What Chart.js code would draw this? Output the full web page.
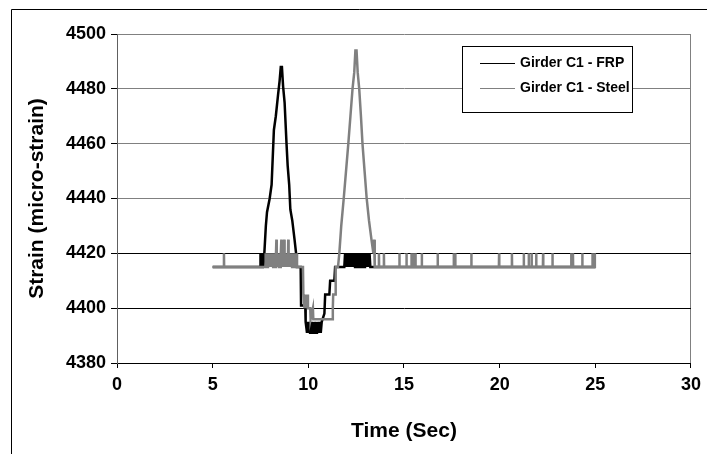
<!DOCTYPE html>
<html>
<head>
<meta charset="utf-8">
<script src="https://cdn.jsdelivr.net/npm/chart.js@4/dist/chart.umd.min.js"></script>
<style>
  html, body { margin: 0; padding: 0; background: #fff; }
  #wrap { position: relative; width: 707px; height: 454px; }
  canvas { display: block; }
</style>
</head>
<body>
<div id="wrap"><canvas id="c" width="707" height="454"></canvas></div>
<script>
// ---- Data ----
const seriesNames = ["Girder C1 - FRP", "Girder C1 - Steel"];
const xTicks = [0, 5, 10, 15, 20, 25, 30];
const yTicks = [4380, 4400, 4420, 4440, 4460, 4480, 4500];

// Girder C1 - FRP (time in s, strain in micro-strain)
const frpTime = [
  5.00, 7.48, 7.50, 7.53, 7.56, 7.59, 7.62, 7.65, 7.70, 7.78, 7.84, 7.98, 8.08, 8.20, 8.30, 8.42, 8.50, 8.56, 8.62,
  8.68, 8.76, 8.86, 8.92, 9.00, 9.06, 9.16, 9.28, 9.36, 9.40, 9.60, 9.62, 9.84, 9.86, 9.93,
  9.97, 10.01, 10.05, 10.09, 10.13, 10.17, 10.21, 10.25, 10.29, 10.33, 10.37, 10.41, 10.45, 10.49, 10.53, 10.57, 10.61, 10.65,
  10.70, 10.84, 10.88, 11.10, 11.14, 11.36, 11.40, 11.88,
  11.92, 11.96, 12.00, 12.04, 12.08, 12.12, 12.16, 12.20, 12.24, 12.28, 12.32, 12.36, 12.40, 12.44, 12.48, 12.52, 12.56,
  12.60, 12.64, 12.68, 12.72, 12.76, 12.80, 12.84, 12.88, 12.92, 12.96, 13.00, 13.04, 13.08, 13.12, 13.16, 13.20,
  13.24, 25.00
];
const frpStrain = [
  4415, 4415, 4420, 4415, 4420, 4415, 4420, 4415, 4420, 4430, 4435, 4440, 4445, 4465, 4470, 4478, 4483, 4488, 4488,
  4481, 4475, 4460, 4452, 4445, 4436, 4432, 4425, 4420, 4415, 4415, 4401, 4401, 4395, 4391,
  4395, 4391, 4395, 4391, 4395, 4391, 4395, 4391, 4395, 4391, 4395, 4391, 4395, 4391, 4395, 4391, 4395, 4391,
  4395, 4398, 4405, 4405, 4410, 4410, 4415, 4415,
  4420, 4415, 4420, 4415, 4420, 4415, 4420, 4415, 4420, 4415, 4420, 4415, 4420, 4415, 4420, 4415, 4420,
  4415, 4420, 4415, 4420, 4415, 4420, 4415, 4420, 4415, 4420, 4415, 4420, 4415, 4420, 4415, 4420,
  4415, 4415
];

// Girder C1 - Steel
const steelTime = [
  5.00, 5.58, 5.59, 5.60, 7.74,
  7.77, 7.80, 7.83, 7.86, 7.89, 7.92, 7.95, 7.98, 8.01, 8.04, 8.07, 8.10, 8.13, 8.16, 8.19, 8.22, 8.25, 8.28, 8.31,
  8.33, 8.35, 8.38, 8.41, 8.44, 8.47, 8.50, 8.53, 8.56, 8.59, 8.61, 8.64, 8.67, 8.70, 8.72, 8.74, 8.76, 8.79, 8.82,
  8.85, 8.88, 8.91, 8.93, 8.95, 8.97, 9.00, 9.03, 9.06, 9.09, 9.12, 9.15, 9.18, 9.21, 9.24, 9.27, 9.30, 9.33, 9.36,
  9.40, 9.72, 9.74, 9.80, 9.83, 9.86, 9.89, 9.92, 9.96, 9.98, 10.10, 10.12, 10.24, 10.26, 10.30, 11.24, 11.28,
  11.30, 11.40, 11.43, 11.55, 11.62, 11.72, 11.85, 11.97, 12.09, 12.20, 12.31, 12.40, 12.46, 12.52, 12.58, 12.66,
  12.75, 12.83, 12.94, 13.05, 13.17, 13.30, 13.40, 13.44, 13.47,
  13.68, 13.69, 13.70, 13.94, 13.95, 13.96, 14.75, 14.76, 14.77, 15.12, 15.13, 15.14, 15.38, 15.39, 15.40,
  15.50, 15.51, 15.52, 15.59, 15.60, 15.61, 15.92, 15.93, 15.94, 16.75, 16.76, 16.77, 17.59, 17.60, 17.61,
  17.67, 17.68, 17.69, 18.51, 18.52, 18.53, 19.96, 19.97, 19.98, 20.63, 20.64, 20.65, 21.25, 21.26, 21.27,
  21.51, 21.52, 21.53, 21.66, 21.67, 21.68, 21.90, 21.91, 21.92, 22.26, 22.27, 22.28, 22.75, 22.76, 22.77,
  23.73, 23.74, 23.75, 23.82, 23.83, 23.84, 24.31, 24.32, 24.33, 24.84, 24.85, 24.86, 24.96, 24.97, 24.98, 25.00
];
const steelStrain = [
  4415, 4415, 4420, 4415, 4415,
  4420, 4415, 4420, 4415, 4420, 4415, 4420, 4415, 4420, 4415, 4420, 4415, 4420, 4415, 4420, 4415, 4420, 4415, 4420,
  4425, 4415, 4420, 4415, 4420, 4415, 4420, 4415, 4420, 4425, 4415, 4420, 4415, 4420, 4415, 4425, 4415, 4420, 4415,
  4420, 4415, 4420, 4415, 4425, 4415, 4420, 4415, 4420, 4415, 4420, 4415, 4420, 4415, 4420, 4415, 4420, 4415, 4420,
  4415, 4415, 4405, 4400, 4405, 4400, 4405, 4400, 4405, 4400, 4400, 4396, 4400, 4396, 4396, 4396, 4400,
  4405, 4405, 4415, 4415, 4420, 4430, 4440, 4450, 4460, 4470, 4480, 4486, 4494, 4494, 4486, 4480,
  4470, 4460, 4450, 4440, 4432, 4425, 4420, 4425, 4415,
  4415, 4420, 4415, 4415, 4420, 4415, 4415, 4420, 4415, 4415, 4420, 4415, 4415, 4420, 4415,
  4415, 4420, 4415, 4415, 4420, 4415, 4415, 4420, 4415, 4415, 4420, 4415, 4415, 4420, 4415,
  4415, 4420, 4415, 4415, 4420, 4415, 4415, 4420, 4415, 4415, 4420, 4415, 4415, 4420, 4415,
  4415, 4420, 4415, 4415, 4420, 4415, 4415, 4420, 4415, 4415, 4420, 4415, 4415, 4420, 4415,
  4415, 4420, 4415, 4415, 4420, 4415, 4415, 4420, 4415, 4415, 4420, 4415, 4415, 4420, 4415, 4415
];

const xTitle = "Time (Sec)";
const yTitle = "Strain (micro-strain)";

// ---- Build chart ----
const toPts = (xs, ys) => xs.map((x, i) => ({ x: x, y: ys[i] }));
const FONT = "'Liberation Sans', Arial, sans-serif";
const colors = ["#000000", "#808080"];

const framePlugin = {
  id: 'frame',
  beforeDraw(chart) {
    const ctx = chart.ctx;
    ctx.save();
    ctx.fillStyle = '#fff';
    ctx.fillRect(0, 0, chart.width, chart.height);
    ctx.strokeStyle = '#000';
    ctx.lineWidth = 1;
    ctx.beginPath();
    ctx.moveTo(11.5, chart.height);
    ctx.lineTo(11.5, 9.5);
    ctx.lineTo(chart.width, 9.5);
    ctx.stroke();
    ctx.restore();
  }
};

const legendPlugin = {
  id: 'boxLegend',
  afterDraw(chart) {
    const ctx = chart.ctx;
    const bx = 462.5, by = 46.5, bw = 170, bh = 66;
    ctx.save();
    ctx.fillStyle = '#fff';
    ctx.fillRect(bx, by, bw, bh);
    ctx.strokeStyle = '#000';
    ctx.lineWidth = 1;
    ctx.strokeRect(bx, by, bw, bh);
    ctx.font = "bold 14px " + FONT;
    ctx.textBaseline = 'middle';
    ctx.fillStyle = '#000';
    const rows = [63, 88];
    chart.data.datasets.forEach((ds, i) => {
      ctx.strokeStyle = ds.borderColor;
      ctx.lineWidth = 1;
      ctx.beginPath();
      ctx.moveTo(480, rows[i] + 0.5);
      ctx.lineTo(515, rows[i] + 0.5);
      ctx.stroke();
      ctx.fillText(ds.label, 520, rows[i]);
    });
    ctx.restore();
  }
};

new Chart(document.getElementById('c'), {
  type: 'scatter',
  data: {
    datasets: [
      { label: seriesNames[0], data: toPts(frpTime, frpStrain), borderColor: colors[0], backgroundColor: colors[0],
        showLine: true, pointRadius: 0, borderWidth: 2.5, tension: 0, order: 1 },
      { label: seriesNames[1], data: toPts(steelTime, steelStrain), borderColor: colors[1], backgroundColor: colors[1],
        showLine: true, pointRadius: 0, borderWidth: 2.5, tension: 0, order: 0 }
    ]
  },
  options: {
    responsive: false,
    animation: false,
    devicePixelRatio: 1,
    layout: { padding: { left: 0, top: 34, right: 11, bottom: 0 } },
    plugins: { legend: { display: false }, tooltip: { enabled: false } },
    scales: {
      x: {
        type: 'linear', min: xTicks[0], max: xTicks[xTicks.length - 1],
        afterBuildTicks: (s) => { s.ticks = xTicks.map(v => ({ value: v })); },
        afterFit: (s) => { s.height = 91; },
        border: { display: true, color: '#000', width: 1 },
        grid: {
          drawOnChartArea: true, drawTicks: true, tickLength: 5,
          color: (c) => (c.tick && c.tick.value === 30 ? '#808080' : 'rgba(0,0,0,0)'),
          tickColor: '#000'
        },
        ticks: { color: '#000', padding: 6, callback: (v) => String(v),
                 font: { family: FONT, size: 18, weight: 'bold' } },
        title: { display: true, text: xTitle, color: '#000', padding: { top: 0, bottom: 10 },
                 font: { family: FONT, size: 21, weight: 'bold' } }
      },
      y: {
        type: 'linear', min: yTicks[0], max: yTicks[yTicks.length - 1],
        afterBuildTicks: (s) => { s.ticks = yTicks.map(v => ({ value: v })); },
        afterFit: (s) => { s.width = 117; },
        border: { display: true, color: '#606060', width: 1 },
        grid: {
          drawTicks: true, tickLength: 6,
          color: (c) => (c.tick && (c.tick.value === 4420 || c.tick.value === 4400 || c.tick.value === 4380) ? '#000' : '#808080'),
          tickColor: '#000'
        },
        ticks: { color: '#000', padding: 5, callback: (v) => String(v),
                 font: { family: FONT, size: 18, weight: 'bold' } },
        title: { display: true, text: yTitle, color: '#000', padding: { top: 25, bottom: 0 },
                 font: { family: FONT, size: 21, weight: 'bold' } }
      }
    }
  },
  plugins: [framePlugin, legendPlugin]
});
</script>
</body>
</html>
